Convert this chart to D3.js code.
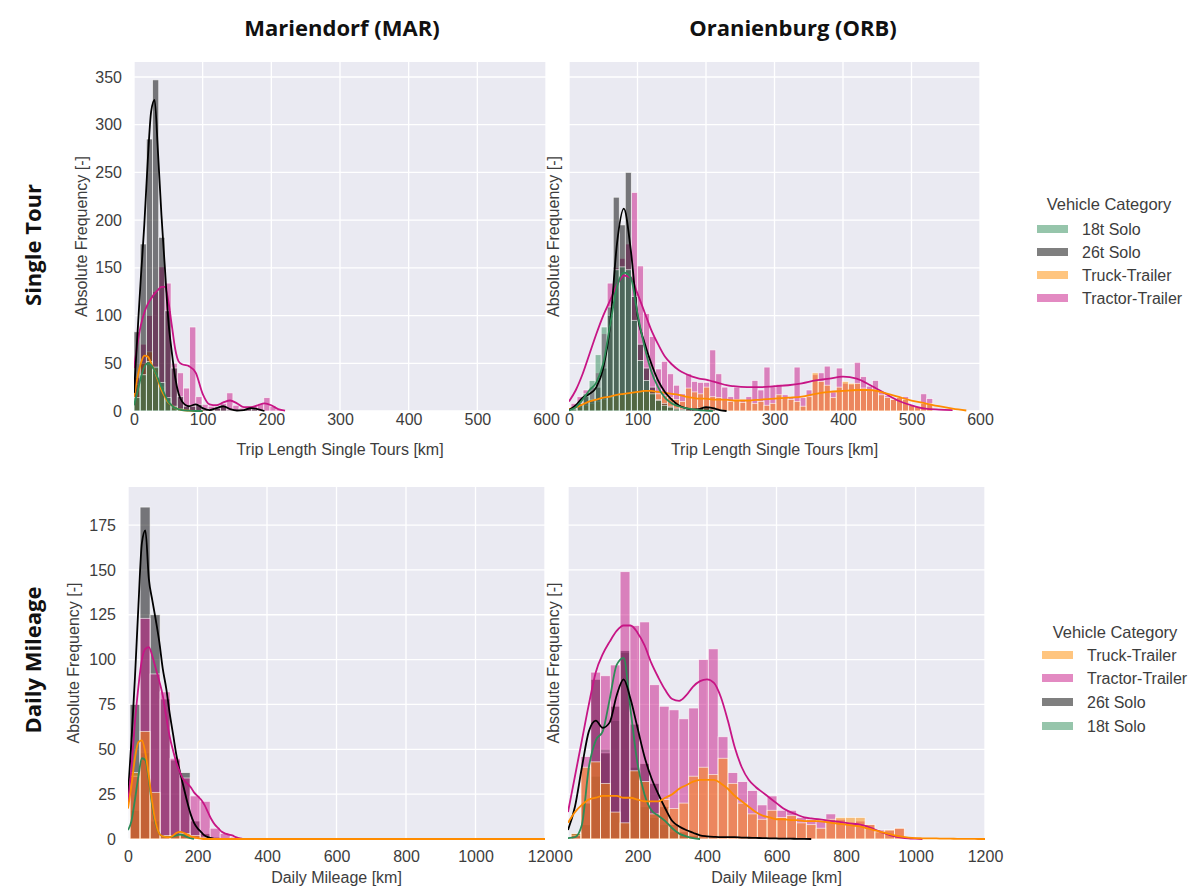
<!DOCTYPE html>
<html>
<head>
<meta charset="utf-8">
<title>Trip length and daily mileage histograms</title>
<script src="https://d3js.org/d3.v7.min.js"></script>
<style>
  body { margin: 0; background: #fff; }
  text { font-family: "Liberation Sans", Arial, sans-serif; fill: #3d3d3d; }
  .head { font-family: "Open Sans", sans-serif; font-weight: 700; fill: #111; }
</style>
</head>
<body>
<script>

// categories and legend orders
var categories = ["18t Solo", "26t Solo", "Truck-Trailer", "Tractor-Trailer"];
var legendTop = ["18t Solo", "26t Solo", "Truck-Trailer", "Tractor-Trailer"];
var legendBottom = ["Truck-Trailer", "Tractor-Trailer", "26t Solo", "18t Solo"];

// ticks
var tourXTicks = [0, 100, 200, 300, 400, 500, 600];
var tourYTicks = [0, 50, 100, 150, 200, 250, 300, 350];
var dayXTicks = [0, 200, 400, 600, 800, 1000, 1200];
var dayYTicks = [0, 25, 50, 75, 100, 125, 150, 175];

// ---- Single tour, Mariendorf (bins of 9 km from 0) ----
var tourMarBinStart = 0, tourMarBinWidth = 9;
var tourMar18  = [14, 38, 52, 46, 30, 14, 5, 2];
var tourMar26  = [83, 175, 285, 347, 182, 105, 45, 15, 5, 5, 7, 2, 1, 3, 5, 1, 0, 1, 3, 2];
var tourMarTT  = [28, 50, 62, 45, 25, 10, 4, 2, 1];
var tourMarTrc = [35, 70, 100, 125, 151, 134, 50, 40, 24, 88, 15, 7, 5, 4, 8, 19, 6, 3, 3, 5, 8, 14, 5, 2];

var tourMarKdeX   = [0, 5, 10, 15, 20, 25, 30, 35, 40, 45, 50, 55, 60, 65, 70, 80, 90, 100, 110, 120, 130, 140, 150, 160, 170, 180, 190, 200, 210, 220, 230];
var tourMarKde26  = [19, 80, 140, 195, 262, 314, 326, 270, 205, 150, 95, 62, 35, 18, 10, 5, 7, 3, 1, 3, 5, 2, 0.5, 1, 3, 2, 0, null, null, null, null];
var tourMarKdeTrc = [45, 70, 90, 103, 112, 118, 123, 127, 130, 130, 115, 90, 65, 52, 49, 47, 40, 18, 7, 6, 9, 11, 8, 4, 4, 6, 8, 6, 2, 0.5, null];
var tourMarKdeTT  = [15, 35, 50, 58, 57, 50, 42, 32, 22, 15, 9, 6, 3, 2, 1, 0.3, 0, 0, null, null, null, null, null, null, null, null, null, null, null, null, null];
var tourMarKde18  = [6, 20, 35, 46, 50, 48, 42, 34, 25, 17, 10, 6, 3, 2, 1, 0.3, 0, 0, null, null, null, null, null, null, null, null, null, null, null, null, null];

// ---- Single tour, Oranienburg (bins of 8.8 km from 3) ----
var tourOrbBinStart = 3, tourOrbBinWidth = 8.8;
var tourOrb18  = [2, 8, 18, 32, 59, 88, 109, 148, 151, 148, 95, 53, 32, 18, 11, 6, 4, 2, 1];
var tourOrb26  = [3, 8, 15, 12, 25, 45, 100, 224, 195, 250, 120, 70, 45, 25, 12, 8, 5, 3, 2, 2, 1, 3, 4, 2, 1];
var tourOrbTT  = [2, 4, 6, 8, 10, 12, 14, 16, 17, 18, 20, 20, 21, 20, 18, 16, 14, 12, 10, 24, 20, 18, 25, 15, 14, 12, 10, 12, 9, 11, 8, 10,
                  6, 8, 17, 14, 12, 10, 5, 15, 40, 31, 27, 14, 25, 31, 29, 29, 24, 22, 22, 17, 14, 12, 14, 12, 6, 5, 8, 8];
var tourOrbTrc = [8, 15, 22, 25, 40, 81, 134, 150, 160, 175, 229, 152, 102, 78, 44, 52, 39, 27, 18, 39, 31, 30, 30, 64, 39, 25, 15, 25, 12, 15, 32, 22,
                  46, 26, 28, 17, 14, 46, 14, 22, 38, 40, 47, 20, 45, 29, 28, 51, 36, 26, 32, 20, 16, 12, 14, 15, 6, 5, 18, 13];

var tourOrbKdeX   = [0, 10, 20, 30, 40, 50, 60, 70, 80, 90, 100, 110, 120, 130, 140, 150, 160, 170, 180, 190, 200, 210, 220, 230, 240,
                     260, 280, 300, 320, 340, 360, 380, 400, 420, 440, 460, 480, 500, 520, 540, 560, 580];
var tourOrbKde26  = [1, 6, 14, 18, 25, 45, 90, 175, 212, 170, 100, 72, 50, 32, 20, 12, 6, 3, 1.5, 2, 4, 3, 1, 0, null,
                     null, null, null, null, null, null, null, null, null, null, null, null, null, null, null, null, null];
var tourOrbKde18  = [0.5, 4, 12, 22, 30, 50, 90, 130, 145, 140, 102, 68, 42, 25, 14, 8, 5, 3, 2, 1, 0.5, 0, null, null, null,
                     null, null, null, null, null, null, null, null, null, null, null, null, null, null, null, null, null];
var tourOrbKdeTrc = [10, 22, 39, 60, 81, 100, 116, 132, 142, 140, 123, 104, 85, 70, 57, 49, 43, 39, 36, 34, 33, 31, 29, 27, 26,
                     25, 25, 26, 27, 29, 32, 34, 36, 34, 27, 19, 11, 6, 2.5, 1.5, 1, null];
var tourOrbKdeTT  = [2, 4, 7, 10, 12, 14, 15, 17, 18, 19, 20, 21, 21, 20, 19, 18, 17, 15, 14, 13, 13, 12, 12, 12, 11,
                     11, 12, 13, 14, 15, 18, 20, 21, 22, 22, 19, 15, 11, 8, 5, 2.5, 0.5];

// ---- Daily mileage, Mariendorf (bins of 28.8 km from 6) ----
var dayMarBinStart = 6, dayMarBinWidth = 28.8;
var dayMar18  = [16, 48, 10, 1, 2, 2, 1];
var dayMar26  = [75, 185, 125, 78, 44, 37, 10, 3, 1];
var dayMarTT  = [37, 60, 26, 2, 2, 3, 2, 1];
var dayMarTrc = [35, 123, 92, 82, 45, 34, 24, 21, 6, 3, 1];

var dayMarKdeX   = [0, 10, 20, 30, 40, 50, 60, 70, 80, 90, 100, 110, 120, 130, 140, 150, 160, 170, 180, 190, 200, 210, 220, 230, 240, 250, 260, 270, 280, 290, 300, 310, 320, 330, 340, 1200];
var dayMarKde26  = [25, 55, 90, 130, 165, 172, 145, 133, 122, 110, 95, 84, 70, 58, 46, 37, 29, 21, 14, 9, 6, 4, 2, 1, 0.5, 0, null, null, null, null, null, null, null, null, null, null];
var dayMarKdeTrc = [20, 40, 65, 85, 100, 106, 107, 102, 95, 88, 80, 68, 57, 49, 42, 37, 33, 31, 29, 26, 24, 22, 19, 15, 11, 8, 6, 4, 3, 2.5, 2, 1, 0.5, 0, 0, null];
var dayMarKdeTT  = [17, 30, 45, 54, 55, 48, 35, 20, 9, 3, 1.5, 1, 1, 2, 3.5, 4, 3.5, 2.5, 1.5, 1, 0.5, 0.2, 0, 0, 0, 0, 0, 0, 0, 0, 0, 0, 0, 0, 0, 0];
var dayMarKde18  = [5, 10, 22, 35, 45, 44, 33, 18, 8, 3, 1.5, 1, 1, 1.5, 2, 2.5, 2, 1, 0.5, 0, null, null, null, null, null, null, null, null, null, null, null, null, null, null, null, null];

// ---- Daily mileage, Oranienburg (bins of 28.2 km from 9) ----
var dayOrbBinStart = 9, dayOrbBinWidth = 28.2;
var dayOrb18  = [1, 8, 35, 50, 66, 104, 40, 18, 12, 8, 4, 2, 1];
var dayOrb26  = [3, 20, 89, 48, 74, 105, 64, 42, 31, 18, 8, 4, 2, 1, 1];
var dayOrbTT  = [3, 40, 43, 31, 15, 9, 38, 32, 14, 22, 17, 20, 35, 40, 36, 45, 31, 20, 14, 11, 16, 12, 13, 9, 8, 6, 11, 12, 12, 12, 8, 4, 5, 6];
var dayOrbTrc = [2, 46, 93, 91, 97, 149, 119, 121, 86, 74, 72, 67, 73, 100, 106, 57, 37, 32, 27, 19, 24, 16, 16, 12, 11, 10, 14, 11, 9, 10, 8, 5, 5, 6];

var dayOrbKdeX = [0, 20, 40, 60, 80, 100, 120, 140, 160, 180, 200, 220, 240, 260, 280, 300, 320, 340, 360, 380, 400, 420, 440, 460, 480, 500,
                  520, 540, 560, 580, 600, 620, 640, 660, 680, 700, 720, 740, 760, 780, 800, 820, 840, 860, 880, 900, 920, 940, 960, 980, 1000,
                  1020, 1040, 1060, 1080, 1100, 1120, 1140, 1160, 1180, 1200];
var dayOrbKde26  = [5, 18, 40, 60, 66, 62, 65, 80, 89, 78, 62, 46, 34, 25, 17, 10, 7, 5, 3.5, 2, 1.5, 1.2, 1, 1, 1, 0.8,
                    0.7, 0.6, 0.5, 0.4, 0.3, 0.2, 0.2, 0.1, 0.1, 0, null, null, null, null, null, null, null, null, null, null, null, null, null, null, null,
                    null, null, null, null, null, null, null, null, null, null];
var dayOrbKde18  = [0.5, 1, 8, 40, 55, 60, 78, 97, 101, 72, 42, 25, 16, 13, 10, 6, 3, 1.5, 0.5, 0, null, null, null, null, null, null,
                    null, null, null, null, null, null, null, null, null, null, null, null, null, null, null, null, null, null, null, null, null, null, null, null, null,
                    null, null, null, null, null, null, null, null, null, null];
var dayOrbKdeTrc = [15, 35, 55, 75, 93, 103, 110, 116, 119, 119, 115, 108, 98, 90, 83, 78, 77, 80, 85, 88, 89, 87, 79, 66, 51, 40,
                    33, 29, 26, 23, 20, 17, 15, 13.5, 12, 11.5, 11, 10.5, 10, 9.5, 9, 8.5, 8, 7, 5.5, 4, 2.5, 1.5, 0.8, 0.4, 0.2,
                    0, null, null, null, null, null, null, null, null, null];
var dayOrbKdeTT  = [9, 15, 19, 22, 23, 24, 24, 24, 23, 23, 22, 21, 21, 21, 23, 25, 28, 30, 32, 33, 33, 33, 31, 28, 24, 21,
                    18, 15, 13, 12, 11, 11, 10.5, 10.5, 10, 10, 10, 9.5, 9, 8.5, 8, 7.5, 7, 6, 5, 4, 3, 2, 1.3, 0.8, 0.5,
                    0.4, 0.3, 0.3, 0.2, 0.2, 0.1, 0.1, 0.1, 0, 0];

var colors = {
  "18t Solo": "seagreen",
  "26t Solo": "black",
  "Truck-Trailer": "darkorange",
  "Tractor-Trailer": "mediumvioletred"
};

var svg = d3.select("body").append("svg")
    .attr("width", 1194)
    .attr("height", 889);

svg.append("rect").attr("width", 1194).attr("height", 889).attr("fill", "#fff");

var clipId = 0;

function drawPanel(p) {
  var x = d3.scaleLinear().domain([0, p.xMax]).range([p.left, p.right]);
  var y = d3.scaleLinear().domain([0, p.yMax]).range([p.bottom, p.top]);
  var g = svg.append("g");

  g.append("rect")
      .attr("x", p.left).attr("y", p.top)
      .attr("width", p.right - p.left).attr("height", p.bottom - p.top)
      .attr("fill", "#eaeaf2");

  // grid
  g.selectAll(null).data(p.xTicks).enter().append("line")
      .attr("x1", function(d) { return x(d); }).attr("x2", function(d) { return x(d); })
      .attr("y1", p.top).attr("y2", p.bottom)
      .attr("stroke", "#fff").attr("stroke-width", 1.3);
  g.selectAll(null).data(p.yTicks).enter().append("line")
      .attr("x1", p.left).attr("x2", p.right)
      .attr("y1", function(d) { return y(d); }).attr("y2", function(d) { return y(d); })
      .attr("stroke", "#fff").attr("stroke-width", 1.3);

  clipId++;
  svg.append("clipPath").attr("id", "clip" + clipId)
    .append("rect")
      .attr("x", p.left).attr("y", p.top - 2)
      .attr("width", p.right - p.left).attr("height", p.bottom - p.top + 3);

  var plot = g.append("g").attr("clip-path", "url(#clip" + clipId + ")");

  // bars, layered
  p.order.forEach(function(name) {
    var counts = p.hist[name];
    var bins = counts.map(function(c, i) { return {c: c, i: i}; })
                     .filter(function(d) { return d.c > 0; });
    plot.selectAll(null).data(bins).enter().append("rect")
        .attr("x", function(d) { return x(p.binStart + d.i * p.binWidth); })
        .attr("width", x(p.binWidth) - x(0))
        .attr("y", function(d) { return y(d.c); })
        .attr("height", function(d) { return y(0) - y(d.c); })
        .attr("fill", colors[name])
        .attr("fill-opacity", 0.5)
        .attr("stroke", "#fff")
        .attr("stroke-opacity", 0.75)
        .attr("stroke-width", 0.8);
  });

  // kde lines
  var line = d3.line()
      .defined(function(d) { return d[1] !== null; })
      .x(function(d) { return x(d[0]); })
      .y(function(d) { return y(d[1]); })
      .curve(d3.curveMonotoneX);

  p.order.forEach(function(name) {
    var pts = p.kdeX.map(function(v, i) { return [v, p.kde[name][i]]; });
    plot.append("path")
        .attr("d", line(pts))
        .attr("fill", "none")
        .attr("stroke", colors[name])
        .attr("stroke-width", 1.8);
  });

  // axes
  var xAxis = g.append("g")
      .attr("transform", "translate(0," + p.bottom + ")")
      .call(d3.axisBottom(x).tickValues(p.xTicks).tickFormat(d3.format("d")).tickSize(0).tickPadding(p.xPad));
  xAxis.select(".domain").remove();
  xAxis.selectAll("text").style("font-size", "16px").attr("fill", "#3d3d3d");

  if (p.showY) {
    var yAxis = g.append("g")
        .attr("transform", "translate(" + p.left + ",0)")
        .call(d3.axisLeft(y).tickValues(p.yTicks).tickFormat(d3.format("d")).tickSize(0).tickPadding(12));
    yAxis.select(".domain").remove();
    yAxis.selectAll("text").style("font-size", "16px").attr("fill", "#3d3d3d");
  }

  g.append("text")
      .attr("x", (p.left + p.right) / 2)
      .attr("y", p.xLabelY)
      .attr("text-anchor", "middle")
      .style("font-size", "16px")
      .text(p.xLabel);

  g.append("text")
      .attr("transform", "translate(" + p.yLabelX + "," + ((p.top + p.bottom) / 2) + ") rotate(-90)")
      .attr("text-anchor", "middle")
      .style("font-size", "16px")
      .text("Absolute Frequency [-]");
}

var topOrder = ["Tractor-Trailer", "Truck-Trailer", "26t Solo", "18t Solo"];
var bottomOrder = ["18t Solo", "26t Solo", "Tractor-Trailer", "Truck-Trailer"];

drawPanel({
  left: 134, right: 546, top: 62, bottom: 411, xMax: 600, yMax: 365.7,
  xTicks: tourXTicks, yTicks: tourYTicks, showY: true, xPad: 3,
  xLabel: "Trip Length Single Tours [km]", xLabelY: 455, yLabelX: 87,
  binStart: tourMarBinStart, binWidth: tourMarBinWidth, order: topOrder,
  hist: {"18t Solo": tourMar18, "26t Solo": tourMar26, "Truck-Trailer": tourMarTT, "Tractor-Trailer": tourMarTrc},
  kdeX: tourMarKdeX,
  kde: {"18t Solo": tourMarKde18, "26t Solo": tourMarKde26, "Truck-Trailer": tourMarKdeTT, "Tractor-Trailer": tourMarKdeTrc}
});

drawPanel({
  left: 569, right: 980, top: 62, bottom: 411, xMax: 600, yMax: 365.7,
  xTicks: tourXTicks, yTicks: tourYTicks, showY: false, xPad: 3,
  xLabel: "Trip Length Single Tours [km]", xLabelY: 455, yLabelX: 559,
  binStart: tourOrbBinStart, binWidth: tourOrbBinWidth, order: topOrder,
  hist: {"18t Solo": tourOrb18, "26t Solo": tourOrb26, "Truck-Trailer": tourOrbTT, "Tractor-Trailer": tourOrbTrc},
  kdeX: tourOrbKdeX,
  kde: {"18t Solo": tourOrbKde18, "26t Solo": tourOrbKde26, "Truck-Trailer": tourOrbKdeTT, "Tractor-Trailer": tourOrbKdeTrc}
});

drawPanel({
  left: 128, right: 545, top: 487, bottom: 839, xMax: 1200, yMax: 196.2,
  xTicks: dayXTicks, yTicks: dayYTicks, showY: true, xPad: 12,
  xLabel: "Daily Mileage [km]", xLabelY: 883, yLabelX: 79,
  binStart: dayMarBinStart, binWidth: dayMarBinWidth, order: bottomOrder,
  hist: {"18t Solo": dayMar18, "26t Solo": dayMar26, "Truck-Trailer": dayMarTT, "Tractor-Trailer": dayMarTrc},
  kdeX: dayMarKdeX,
  kde: {"18t Solo": dayMarKde18, "26t Solo": dayMarKde26, "Truck-Trailer": dayMarKdeTT, "Tractor-Trailer": dayMarKdeTrc}
});

drawPanel({
  left: 568, right: 985, top: 487, bottom: 839, xMax: 1200, yMax: 196.2,
  xTicks: dayXTicks, yTicks: dayYTicks, showY: false, xPad: 12,
  xLabel: "Daily Mileage [km]", xLabelY: 883, yLabelX: 559,
  binStart: dayOrbBinStart, binWidth: dayOrbBinWidth, order: bottomOrder,
  hist: {"18t Solo": dayOrb18, "26t Solo": dayOrb26, "Truck-Trailer": dayOrbTT, "Tractor-Trailer": dayOrbTrc},
  kdeX: dayOrbKdeX,
  kde: {"18t Solo": dayOrbKde18, "26t Solo": dayOrbKde26, "Truck-Trailer": dayOrbKdeTT, "Tractor-Trailer": dayOrbKdeTrc}
});

// column and row headings
svg.append("text").attr("class", "head").attr("x", 342).attr("y", 36)
    .attr("text-anchor", "middle").style("font-size", "22px").text("Mariendorf (MAR)");
svg.append("text").attr("class", "head").attr("x", 793).attr("y", 36)
    .attr("text-anchor", "middle").style("font-size", "22px").text("Oranienburg (ORB)");
svg.append("text").attr("class", "head")
    .attr("transform", "translate(41,245) rotate(-90)")
    .attr("text-anchor", "middle").style("font-size", "22px").text("Single Tour");
svg.append("text").attr("class", "head")
    .attr("transform", "translate(41,660) rotate(-90)")
    .attr("text-anchor", "middle").style("font-size", "22px").text("Daily Mileage");

// legends
function legend(order, cx, titleY, patchX, textX, rowY) {
  var g = svg.append("g");
  g.append("text").attr("x", cx).attr("y", titleY)
      .attr("text-anchor", "middle").style("font-size", "16.5px").text("Vehicle Category");
  order.forEach(function(name, i) {
    g.append("rect")
        .attr("x", patchX).attr("y", rowY[i] - 4)
        .attr("width", 31).attr("height", 8)
        .attr("fill", colors[name]).attr("fill-opacity", 0.5);
    g.append("text").attr("x", textX).attr("y", rowY[i] + 6)
        .style("font-size", "16px").text(name);
  });
}

legend(legendTop, 1109, 210, 1037, 1082, [229, 252, 275, 298]);
legend(legendBottom, 1115, 638, 1042, 1087, [655, 678, 702, 726]);

</script>
</body>
</html>
